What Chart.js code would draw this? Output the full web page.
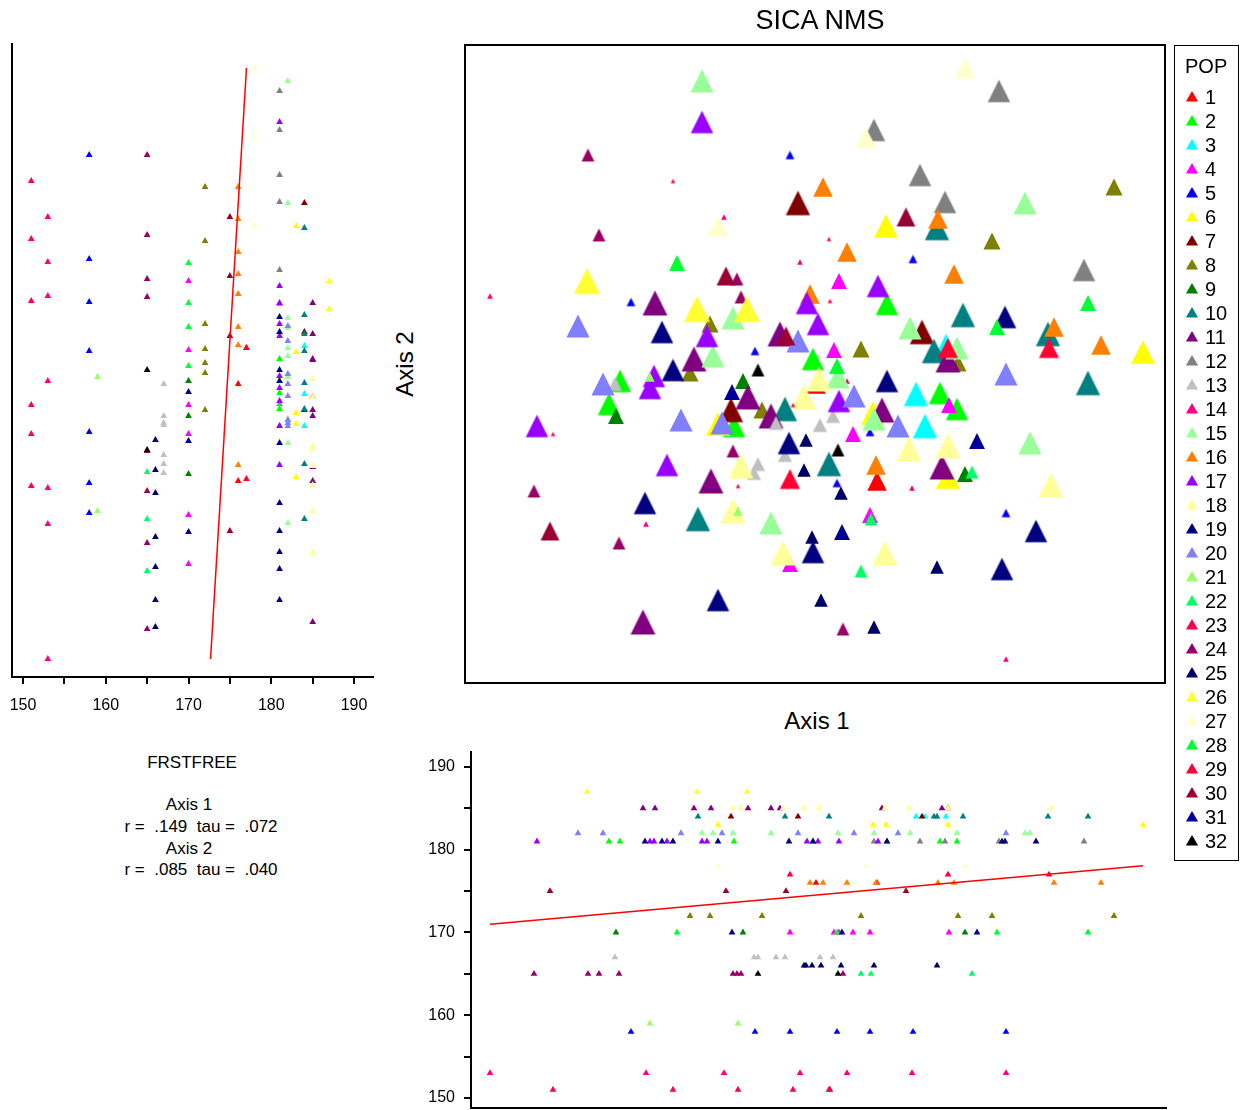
<!DOCTYPE html>
<html>
<head>
<meta charset="utf-8">
<title>SICA NMS</title>
<script src="https://cdn.jsdelivr.net/npm/chart.js@4.4.1/dist/chart.umd.min.js"></script>
<style>
  html, body { margin: 0; padding: 0; background: #fff; overflow: hidden; }
  body { width: 1244px; height: 1110px; position: relative;
         font-family: 'Liberation Sans', Arial, Helvetica, sans-serif; color: #000; }
  canvas { position: absolute; }
  .lbl { position: absolute; white-space: pre; line-height: 1; transform: translate(-50%, -50%); }
</style>
</head>
<body>
<canvas id="ffAxis2" width="385" height="730" style="left:0px;top:0px"></canvas>
<canvas id="nms" width="720" height="700" style="left:455px;top:0px"></canvas>
<canvas id="popKey" width="130" height="870" style="left:1170px;top:0px"></canvas>
<canvas id="axis1Ff" width="780" height="370" style="left:400px;top:740px"></canvas>

<div class="lbl" style="left:820px;top:20px;font-size:27px">SICA NMS</div>
<div class="lbl" style="left:405px;top:364px;font-size:24px;transform:translate(-50%,-50%) rotate(-90deg)">Axis 2</div>
<div class="lbl" style="left:817px;top:721px;font-size:24px">Axis 1</div>

<div class="lbl" style="left:192px;top:762px;font-size:17px">FRSTFREE</div>
<div class="lbl" style="left:189px;top:804px;font-size:17px">Axis 1</div>
<div class="lbl" style="left:201px;top:826px;font-size:17px">r =  .149  tau =  .072</div>
<div class="lbl" style="left:189px;top:848px;font-size:17px">Axis 2</div>
<div class="lbl" style="left:201px;top:869px;font-size:17px">r =  .085  tau =  .040</div>

<script>
// Populations (plot groups) and their legend colours
const POPS = ['1','2','3','4','5','6','7','8','9','10','11','12','13','14','15','16',
              '17','18','19','20','21','22','23','24','25','26','27','28','29','30','31','32'];
const POP_COLORS = ['#FF0000','#00FF00','#00FFFF','#FF00FF','#0000FF','#FFFF00','#800000','#808000',
                    '#008000','#008080','#800080','#808080','#C0C0C0','#FF0080','#99FF99','#FF8000',
                    '#9900FF','#FFFF99','#000080','#8080FF','#99FF66','#00FF66','#FF0050','#990066',
                    '#000066','#FFFF33','#FFFFCC','#00FF33','#FF0033','#990033','#000099','#000000'];

// FRSTFREE for each population
const FRSTFREE = [176,181,184,170,158,183,184,172,170,184,185,181,167,153,182,176,
                  181,185,181,182,159,165,151,165,166,187,178,170,177,175,170,165];

// NMS scores of the plots, per population: Axis 1
const AXIS1 = [
  [0.01, 0.62],
  [-2.06, -1.95, -0.81, -0.02, 1.25, 1.42, 0.72],
  [1.31, 1.01, 1.10],
  [0.24, 0.19, 1.34, 0.38, 0.55, -0.25],
  [-0.25, 0.98, -1.84, -0.60, 0.55, 0.22, 1.91],
  [0.71, 3.28, -0.97, 1.33, 0.58],
  [-0.17, 1.07, -0.84],
  [2.99, 1.77, 0.46, -1.05, -1.25, -0.53, 1.43],
  [-1.99, -0.72, 1.50],
  [1.22, 1.48, 2.33, 1.19, 2.73, -0.30, 0.14, -1.17],
  [-1.72, -1.60, -1.21, -1.04, -0.67, -0.44, -0.35, 0.67, 1.27, 1.33],
  [1.84, 0.59, 1.05, 1.30, 2.69],
  [-2.00, -0.57, -0.61, -0.39, -0.30, 0.05, 0.18],
  [-3.25, -1.69, -0.91, -0.15, 0.32, 0.97, 1.91],
  [-1.13, 2.10, 0.95, -0.82, -1.02, -0.44, 0.23, 0.59, 1.42, 2.15],
  [0.08, 1.23, 0.32, 1.39, -0.05, 2.39, 2.86, 0.61],
  [-1.13, 0.63, -0.08, 0.03, -1.08, -1.61, -1.65, -2.78, 0.24, -1.48],
  [-0.82, -0.74, -0.32, -0.11, 0.04, 0.70, 0.94, 1.33, 2.36],
  [1.90, -1.53, -1.42, 0.72, -0.26, -1.70, 2.21, -0.02, 1.87, -0.97],
  [-2.37, -0.17, 1.91, -2.12, 0.39, -1.34, -0.93, 0.83],
  [-1.65, -0.77],
  [0.46, 1.57, 0.56],
  [-1.42, 0.14, 0.15, -0.22, -2.62, -0.77],
  [-2.27, -2.16, -0.78, -0.74, -2.81, -1.96, 0.28, -0.82],
  [-0.09, -0.11, 0.26, -0.03, 1.22, 0.06, 0.59],
  [-2.28, -1.18, -0.68],
  [1.50, 0.51, -0.97],
  [-1.38, 2.73, 1.82, 0.22],
  [-0.25, 1.33, 2.34],
  [0.91, -0.89, -0.29, -2.65],
  [-0.83, 1.62, 0.27],
  [-0.57, 0.23]
];

// NMS scores of the same plots: Axis 2
const AXIS2 = [
  [-0.19, -1.16],
  [-0.39, -0.16, -0.61, 0.06, -0.28, -0.44, 0.61],
  [0.19, -0.29, -0.61],
  [0.84, 0.15, -0.40, -0.69, -1.50, -1.99],
  [2.10, 1.06, 0.63, 0.14, -0.67, -1.18, -1.48],
  [1.39, 0.13, -0.59, -1.12, -0.48],
  [1.62, 0.33, -0.45],
  [1.78, 1.24, 0.16, 0.41, -0.08, -0.45, 0.02],
  [-0.51, -0.16, -1.09],
  [1.37, 0.50, 0.31, 0.14, -0.18, -0.44, -0.99, -1.54],
  [-2.57, 0.62, 0.06, -1.16, -0.32, -0.51, 0.31, -0.45, -1.02, 0.05],
  [2.74, 2.35, 1.90, 1.63, 0.95],
  [-0.19, -0.99, -1.08, -0.58, -0.90, -0.60, -0.51],
  [0.69, -1.59, 1.48, 1.03, -0.16, -1.23, -2.94],
  [2.84, 1.62, 0.37, 0.47, 0.09, -1.58, -0.12, -0.54, 0.17, -0.78],
  [1.78, 1.46, 1.13, 0.91, 0.71, 0.38, 0.20, -1.00],
  [2.43, 0.79, 0.62, 0.41, 0.29, -0.11, -0.23, -0.61, -0.36, -1.00],
  [-1.46, -1.01, -1.88, -0.32, -0.14, -1.88, -0.84, -0.81, -1.20],
  [0.48, 0.33, -0.05, -0.16, -0.78, -1.38, -1.66, -1.87, -2.04, -2.35],
  [0.39, 0.24, -0.09, -0.19, -0.31, -0.55, -0.58, -0.61],
  [-0.12, -1.46],
  [-2.06, -1.07, -1.54],
  [1.84, 1.26, 0.64, -0.40, -0.69, -1.21],
  [2.10, 1.30, 0.86, 0.68, -1.26, -1.78, -2.64, -0.86],
  [-0.75, -1.05, -1.28, -1.72, -2.02, -2.35, -2.62],
  [0.84, 0.56, 0.56],
  [2.97, 2.27, 1.39],
  [1.02, 0.62, 0.38, -0.01],
  [-1.14, 0.17, 0.17],
  [1.48, 0.89, 0.29, -1.66],
  [-0.27, -0.76, -1.67],
  [-0.05, -0.85]
];

// Fitted lines of FRSTFREE against each axis (end points)
const FIT_FF_AXIS2 = [{ x: 172.66, y: -2.94 }, { x: 177.0, y: 2.97 }];
const FIT_AXIS1_FF = [{ x: -3.25, y: 171.0 }, { x: 3.28, y: 178.07 }];

// Axis ranges
const NMS_X = { min: -3.5, max: 3.5 };
const NMS_Y = { min: -3.18, max: 3.2 };
const SIDE_Y = { min: -3.12, max: 3.21 };
const SIDE_FF_X = { min: 148.67, max: 192.29 };
const BOTTOM_X = { min: -3.44, max: 3.51 };
const BOTTOM_FF_Y = { min: 148.79, max: 191.81 };

Chart.defaults.font.family = "'Liberation Sans', Arial, Helvetica, sans-serif";
Chart.defaults.color = '#000';

// triangle width on the ordination grows with FRSTFREE
const markerWidth = ff => 4.5 + 0.6 * (ff - 151);
const labelEveryTen = v => (Math.round(v) % 10 === 0 ? String(Math.round(v)) : '');

// upright triangle as tall as it is wide, centred on its bounding box
function triangleSprite(color, w) {
  const size = Math.ceil(w) + 2;
  const c = document.createElement('canvas');
  c.width = size;
  c.height = size;
  const g = c.getContext('2d');
  const top = (size - w) / 2;
  g.fillStyle = color;
  g.beginPath();
  g.moveTo(size / 2, top);
  g.lineTo(size / 2 + w / 2, top + w);
  g.lineTo(size / 2 - w / 2, top + w);
  g.closePath();
  g.fill();
  return c;
}

const frame = (width) => ({
  id: 'frame',
  afterDraw(chart) {
    const { ctx, chartArea: a } = chart;
    ctx.save();
    ctx.lineWidth = width;
    ctx.strokeStyle = '#000';
    ctx.strokeRect(a.left, a.top, a.right - a.left, a.bottom - a.top);
    ctx.restore();
  }
});

function popDatasets(pointFor, radiusFor, styleFor) {
  return POPS.map((label, i) => ({
    label,
    data: AXIS1[i].map((a1, j) => pointFor(a1, AXIS2[i][j], FRSTFREE[i])),
    backgroundColor: POP_COLORS[i],
    pointBackgroundColor: POP_COLORS[i],
    pointBorderWidth: 0,
    borderWidth: 0,
    pointStyle: styleFor(i),
    pointRadius: radiusFor(FRSTFREE[i]),
    order: POPS.length - i
  }));
}

const common = {
  responsive: false,
  animation: false,
  events: [],
  plugins: { legend: { display: false }, tooltip: { enabled: false } }
};

const blackGridTicks = {
  display: true, drawOnChartArea: false, drawTicks: true,
  tickLength: 7, lineWidth: 2, color: '#000'
};
const blackBorder = { display: true, width: 2, color: '#000' };

// Main ordination
new Chart(document.getElementById('nms'), {
  type: 'scatter',
  data: {
    datasets: popDatasets(
      (a1, a2) => ({ x: a1, y: a2 }),
      ff => markerWidth(ff) / 2,
      i => triangleSprite(POP_COLORS[i], markerWidth(FRSTFREE[i]))
    )
  },
  options: {
    ...common,
    layout: { autoPadding: false, padding: { left: 10, right: 10, top: 45, bottom: 17 } },
    scales: {
      x: { type: 'linear', display: false, min: NMS_X.min, max: NMS_X.max },
      y: { type: 'linear', display: false, min: NMS_Y.min, max: NMS_Y.max }
    }
  },
  plugins: [frame(2)]
});

// FRSTFREE against Axis 2
new Chart(document.getElementById('ffAxis2'), {
  type: 'scatter',
  data: {
    datasets: [
      { type: 'line', data: FIT_FF_AXIS2, borderColor: '#FF0000', borderWidth: 1.5,
        pointRadius: 0, fill: false, order: 0 },
      ...popDatasets((a1, a2, ff) => ({ x: ff, y: a2 }), () => 3.9, () => 'triangle')
    ]
  },
  options: {
    ...common,
    layout: { autoPadding: false, padding: { left: 12, right: 12, top: 44, bottom: 0 } },
    scales: {
      x: {
        type: 'linear', position: 'bottom', min: SIDE_FF_X.min, max: SIDE_FF_X.max,
        ticks: { stepSize: 5, includeBounds: false, autoSkip: false, maxRotation: 0,
                 padding: 12, font: { size: 16 }, color: '#000', callback: labelEveryTen },
        grid: blackGridTicks, border: blackBorder,
        afterFit: s => { s.height = 53; s.paddingLeft = 0; s.paddingRight = 0; }
      },
      y: {
        type: 'linear', position: 'left', min: SIDE_Y.min, max: SIDE_Y.max,
        ticks: { display: false }, grid: { display: false }, border: blackBorder,
        afterFit: s => { s.width = 0; s.paddingTop = 0; s.paddingBottom = 0; }
      }
    }
  }
});

// Axis 1 against FRSTFREE
new Chart(document.getElementById('axis1Ff'), {
  type: 'scatter',
  data: {
    datasets: [
      { type: 'line', data: FIT_AXIS1_FF, borderColor: '#FF0000', borderWidth: 1.5,
        pointRadius: 0, fill: false, order: 0 },
      ...popDatasets((a1, a2, ff) => ({ x: a1, y: ff }), () => 3.9, () => 'triangle')
    ]
  },
  options: {
    ...common,
    layout: { autoPadding: false, padding: { left: 0, right: 14, top: 12, bottom: 2 } },
    scales: {
      x: {
        type: 'linear', position: 'bottom', min: BOTTOM_X.min, max: BOTTOM_X.max,
        ticks: { display: false }, grid: { display: false }, border: blackBorder,
        afterFit: s => { s.height = 0; s.paddingLeft = 0; s.paddingRight = 0; }
      },
      y: {
        type: 'linear', position: 'left', min: BOTTOM_FF_Y.min, max: BOTTOM_FF_Y.max,
        ticks: { stepSize: 5, includeBounds: false, autoSkip: false,
                 padding: 9, font: { size: 16 }, color: '#000', callback: labelEveryTen },
        grid: blackGridTicks, border: blackBorder,
        afterFit: s => { s.width = 71; s.paddingTop = 0; s.paddingBottom = 0; }
      }
    }
  }
});

// Population key
new Chart(document.getElementById('popKey'), {
  type: 'scatter',
  data: {
    datasets: POPS.map((label, i) => ({
      label, data: [],
      backgroundColor: POP_COLORS[i], pointBackgroundColor: POP_COLORS[i],
      borderWidth: 0, pointBorderWidth: 0, pointStyle: 'triangle'
    }))
  },
  options: {
    responsive: false, animation: false, events: [],
    layout: { autoPadding: false, padding: { left: 15, right: 0, top: 45, bottom: 5 } },
    scales: { x: { display: false }, y: { display: false } },
    plugins: {
      tooltip: { enabled: false },
      legend: {
        display: true, position: 'left', align: 'start',
        title: { display: true, text: 'POP', position: 'start', color: '#000',
                 font: { size: 20 }, padding: { top: 12, bottom: 3 } },
        labels: { usePointStyle: true, pointStyle: 'triangle', boxWidth: 6, boxHeight: 10,
                  padding: 4, color: '#000', font: { size: 20 } }
      }
    }
  },
  plugins: [{
    id: 'keyFrame',
    afterDraw(chart) {
      const ctx = chart.ctx;
      ctx.save();
      ctx.lineWidth = 1;
      ctx.strokeStyle = '#000';
      ctx.strokeRect(4.5, 45.5, 64, 815);
      ctx.restore();
    }
  }]
});
</script>
</body>
</html>
